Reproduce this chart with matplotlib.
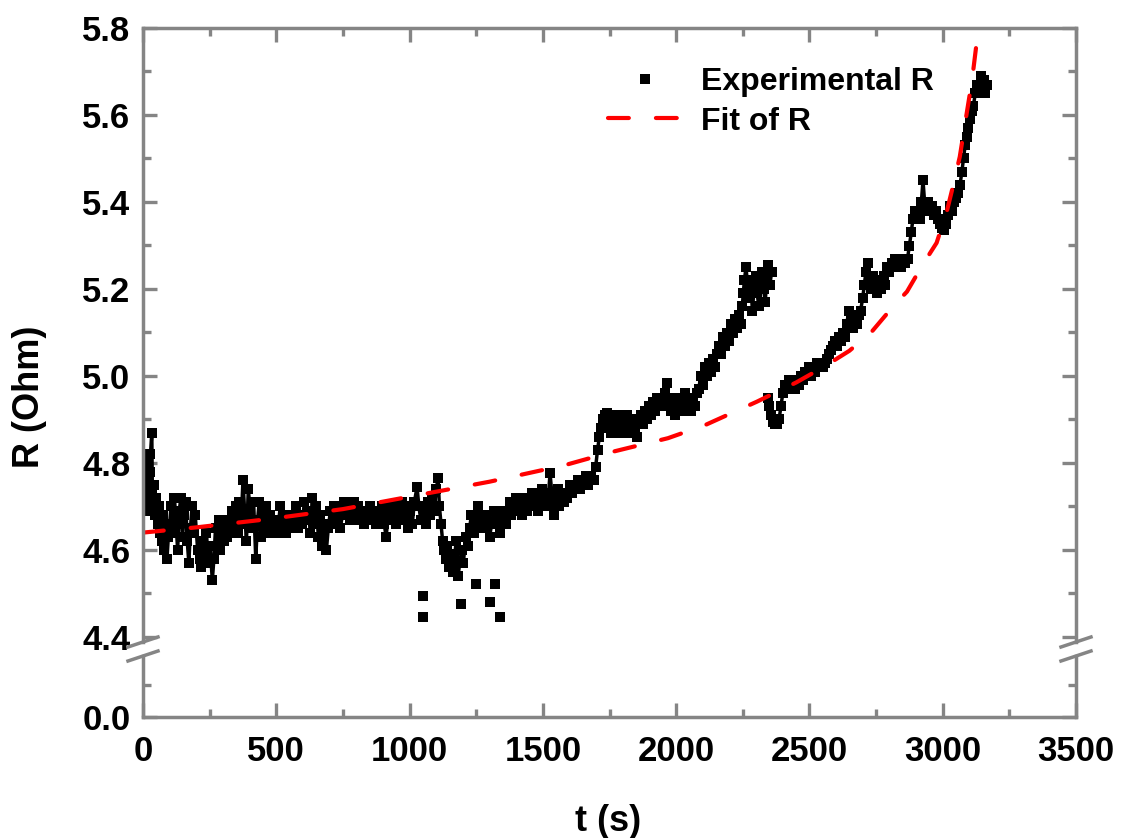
import matplotlib
matplotlib.use('Agg')
import matplotlib.pyplot as plt
from matplotlib.lines import Line2D
from matplotlib.ticker import MultipleLocator

plt.rcParams['font.family'] = ['Liberation Sans', 'DejaVu Sans']
plt.rcParams['font.weight'] = 'bold'

# experimental R (t in s, R in Ohm), segment by segment
early = [(5, 4.70), (8, 4.78), (10, 4.74), (12, 4.80), (15, 4.72), (18, 4.76), (20, 4.69),
         (22, 4.74), (25, 4.78), (28, 4.82), (33, 4.87), (35, 4.74), (38, 4.70), (42, 4.75),
         (45, 4.68), (50, 4.72), (55, 4.66), (60, 4.70), (65, 4.64), (70, 4.62), (75, 4.68),
         (80, 4.60), (85, 4.65), (90, 4.58), (95, 4.63), (100, 4.66),
         (105, 4.70), (112, 4.64), (118, 4.72), (124, 4.66), (130, 4.60), (136, 4.69),
         (142, 4.72), (148, 4.63), (155, 4.68), (160, 4.71), (166, 4.62), (172, 4.57),
         (178, 4.65), (184, 4.70), (190, 4.64), (196, 4.68), (205, 4.60), (212, 4.58),
         (218, 4.56), (225, 4.62), (232, 4.58), (238, 4.64), (245, 4.57), (252, 4.61),
         (260, 4.53), (266, 4.58), (272, 4.65), (278, 4.61), (284, 4.67), (290, 4.60),
         (296, 4.64), (302, 4.62), (308, 4.66), (314, 4.63), (320, 4.67), (326, 4.64),
         (332, 4.69), (340, 4.65), (348, 4.70), (355, 4.64), (362, 4.71), (368, 4.66),
         (375, 4.76), (382, 4.68), (388, 4.62), (395, 4.74), (402, 4.69), (408, 4.65),
         (415, 4.71), (423, 4.58), (430, 4.67), (436, 4.71), (442, 4.63), (448, 4.69),
         (455, 4.66), (462, 4.70), (470, 4.64), (478, 4.68), (485, 4.65), (492, 4.67), (500, 4.64)]

flat = [(508, 4.66), (515, 4.70), (522, 4.65), (530, 4.68), (538, 4.64), (545, 4.67),
        (553, 4.65), (560, 4.68), (568, 4.66), (575, 4.70), (583, 4.65), (590, 4.68),
        (598, 4.66), (605, 4.71), (612, 4.67), (620, 4.69), (628, 4.64), (635, 4.72),
        (642, 4.66), (650, 4.70), (658, 4.63), (665, 4.68), (672, 4.61), (680, 4.66),
        (688, 4.60), (695, 4.65), (703, 4.69), (710, 4.66), (718, 4.70), (725, 4.67),
        (732, 4.69), (740, 4.65), (748, 4.68), (755, 4.71), (762, 4.68), (770, 4.70),
        (778, 4.67), (785, 4.69), (793, 4.71), (800, 4.68), (808, 4.70), (815, 4.67),
        (822, 4.69), (830, 4.66), (838, 4.69), (845, 4.68), (852, 4.70), (860, 4.67),
        (868, 4.69), (875, 4.66), (882, 4.69), (890, 4.68), (898, 4.70), (905, 4.66),
        (912, 4.63), (920, 4.68), (928, 4.70), (935, 4.67), (942, 4.69), (950, 4.66),
        (958, 4.70), (965, 4.68), (972, 4.71), (980, 4.67), (988, 4.70), (995, 4.65),
        (1002, 4.69), (1010, 4.66), (1018, 4.71), (1028, 4.745), (1035, 4.70), (1042, 4.67)]

dip = [(1055, 4.70), (1062, 4.66), (1070, 4.71), (1078, 4.68), (1085, 4.72), (1092, 4.69),
       (1100, 4.74), (1107, 4.765), (1112, 4.70), (1118, 4.66), (1124, 4.62), (1130, 4.60),
       (1136, 4.58), (1142, 4.61), (1148, 4.56), (1155, 4.59), (1162, 4.55), (1168, 4.58),
       (1175, 4.62), (1182, 4.54), (1188, 4.57), (1195, 4.60), (1202, 4.57), (1210, 4.63),
       (1218, 4.61), (1225, 4.65), (1232, 4.68), (1240, 4.64), (1248, 4.67), (1255, 4.70),
       (1262, 4.66), (1270, 4.68), (1278, 4.65), (1285, 4.68), (1292, 4.66), (1300, 4.63),
       (1308, 4.66), (1315, 4.69), (1322, 4.66), (1330, 4.68), (1338, 4.64), (1345, 4.67),
       (1352, 4.69), (1360, 4.66), (1368, 4.68), (1375, 4.71), (1382, 4.68), (1390, 4.70),
       (1398, 4.72), (1405, 4.69), (1412, 4.71), (1420, 4.68), (1428, 4.70), (1435, 4.72),
       (1442, 4.69), (1450, 4.71), (1458, 4.73), (1465, 4.70), (1472, 4.72), (1480, 4.69),
       (1488, 4.71), (1495, 4.74), (1502, 4.71), (1510, 4.73), (1518, 4.70), (1527, 4.777),
       (1535, 4.72), (1540, 4.68), (1548, 4.72), (1555, 4.74), (1562, 4.70), (1570, 4.73),
       (1578, 4.71), (1585, 4.73), (1592, 4.72), (1600, 4.75), (1608, 4.73), (1615, 4.75),
       (1622, 4.74), (1630, 4.76), (1638, 4.74), (1645, 4.76), (1652, 4.75), (1660, 4.77),
       (1668, 4.75), (1675, 4.76), (1682, 4.77), (1690, 4.76)]

outliers = [(1050, 4.494), (1050, 4.446), (1193, 4.476), (1251, 4.522),
            (1301, 4.481), (1320, 4.522), (1340, 4.446)]

rise1 = [(1698, 4.79), (1705, 4.83), (1712, 4.86), (1718, 4.88), (1725, 4.90), (1732, 4.91),
         (1740, 4.915), (1748, 4.89), (1755, 4.87), (1762, 4.90), (1770, 4.88), (1778, 4.91),
         (1785, 4.89), (1792, 4.87), (1800, 4.90), (1808, 4.88), (1815, 4.91), (1822, 4.89),
         (1830, 4.87), (1838, 4.90), (1845, 4.88), (1852, 4.86), (1860, 4.89), (1868, 4.91),
         (1875, 4.89), (1882, 4.92), (1890, 4.90), (1898, 4.93), (1905, 4.91), (1912, 4.94),
         (1920, 4.92), (1928, 4.95), (1935, 4.93), (1942, 4.95), (1950, 4.93), (1958, 4.96),
         (1965, 4.984), (1972, 4.95), (1980, 4.92), (1988, 4.94), (1995, 4.91), (2002, 4.93),
         (2010, 4.95), (2018, 4.92), (2025, 4.94), (2032, 4.96), (2040, 4.93), (2048, 4.95),
         (2055, 4.92), (2062, 4.95), (2070, 4.93), (2078, 4.96),
         (2085, 4.97), (2092, 5.00), (2100, 4.98), (2108, 5.02), (2115, 5.00), (2122, 5.03),
         (2130, 5.01), (2138, 5.04), (2145, 5.02), (2152, 5.05), (2160, 5.07), (2168, 5.05),
         (2175, 5.09), (2182, 5.07), (2190, 5.10), (2198, 5.08), (2205, 5.12), (2212, 5.10),
         (2220, 5.13), (2228, 5.11), (2235, 5.14), (2242, 5.12), (2248, 5.16), (2252, 5.19),
         (2256, 5.22), (2262, 5.25), (2268, 5.21), (2274, 5.18), (2280, 5.22), (2286, 5.15),
         (2292, 5.20), (2298, 5.23), (2304, 5.19), (2310, 5.16), (2316, 5.21), (2322, 5.24),
         (2328, 5.20), (2334, 5.17), (2340, 5.22), (2346, 5.255), (2352, 5.21), (2358, 5.24)]

rise2 = [(2345, 4.95), (2350, 4.93), (2356, 4.91), (2362, 4.895), (2370, 4.89), (2378, 4.89),
         (2386, 4.90), (2393, 4.93), (2400, 4.96), (2408, 4.98), (2415, 4.97), (2422, 4.99),
         (2430, 4.98), (2438, 4.99), (2445, 4.97), (2452, 4.99), (2460, 4.98), (2468, 5.00),
         (2475, 4.99), (2482, 5.01), (2490, 5.00), (2498, 5.02), (2505, 5.00), (2512, 5.02),
         (2520, 5.01), (2528, 5.03), (2535, 5.02), (2542, 5.03), (2550, 5.02), (2558, 5.03),
         (2565, 5.04), (2572, 5.05), (2580, 5.06), (2588, 5.07), (2595, 5.08), (2602, 5.07),
         (2610, 5.09), (2618, 5.08), (2625, 5.10), (2632, 5.09), (2640, 5.12), (2648, 5.15),
         (2655, 5.13), (2662, 5.11), (2670, 5.13), (2678, 5.12), (2685, 5.14), (2692, 5.15),
         (2700, 5.18), (2706, 5.21), (2712, 5.24), (2718, 5.26), (2725, 5.22), (2732, 5.20),
         (2740, 5.23), (2748, 5.21), (2755, 5.19), (2762, 5.22), (2770, 5.20), (2778, 5.23),
         (2785, 5.21), (2792, 5.25), (2800, 5.24), (2808, 5.26), (2815, 5.25), (2822, 5.27),
         (2830, 5.25), (2838, 5.26), (2845, 5.25), (2852, 5.27), (2860, 5.26), (2868, 5.27),
         (2875, 5.30), (2882, 5.33), (2888, 5.36), (2895, 5.38), (2902, 5.36), (2908, 5.38),
         (2915, 5.36), (2920, 5.40), (2926, 5.45), (2932, 5.40), (2938, 5.38), (2945, 5.40),
         (2952, 5.38), (2960, 5.39), (2968, 5.37), (2975, 5.38), (2982, 5.36), (2990, 5.35),
         (2998, 5.34), (3005, 5.335), (3012, 5.35), (3020, 5.37), (3028, 5.39), (3035, 5.38),
         (3042, 5.40), (3050, 5.41), (3058, 5.42), (3065, 5.44), (3072, 5.47), (3078, 5.50),
         (3084, 5.53), (3090, 5.55), (3096, 5.57), (3102, 5.59), (3108, 5.61), (3115, 5.62),
         (3122, 5.65), (3128, 5.67), (3135, 5.66), (3142, 5.69), (3148, 5.66), (3155, 5.68),
         (3160, 5.65), (3165, 5.67)]

# fitted curve
t_fit = [0, 200, 470, 750, 1030, 1300, 1582, 1763, 1969, 2108, 2303, 2450, 2554, 2650,
         2734, 2814, 2866, 2927, 2977, 3014, 3040, 3064, 3090, 3110, 3127]
r_fit = [4.640, 4.652, 4.671, 4.694, 4.726, 4.757, 4.795, 4.826, 4.857, 4.887, 4.941, 4.985,
         5.021, 5.058, 5.102, 5.160, 5.194, 5.258, 5.306, 5.375, 5.44, 5.504, 5.604, 5.68, 5.765]

x_major = [0, 500, 1000, 1500, 2000, 2500, 3000, 3500]

exp_pts = early + flat + dip + outliers + rise1 + rise2
t_exp = [p[0] for p in exp_pts]
r_exp = [p[1] for p in exp_pts]

gray = '#858585'
W, H = 1126, 838
fig = plt.figure(figsize=(W / 100, H / 100), dpi=100)

def fx(px):
    return px / W

def fy(py):
    return 1 - py / H

left, right = 143, 1076
top, brk_hi, brk_lo, bottom = 28, 642, 656, 717

ax = fig.add_axes([fx(left), fy(brk_hi), (right - left) / W, (brk_hi - top) / H])
axb = fig.add_axes([fx(left), fy(bottom), (right - left) / W, (bottom - brk_lo) / H], sharex=ax)

# the recorded points are so dense they merge into a band; a thin trace fills the gaps
for seg in (early + flat + dip, rise1, rise2):
    ax.plot([p[0] for p in seg], [p[1] for p in seg], '-', color='black', lw=2.5)
ax.plot(t_exp, r_exp, 's', color='black', ms=7.5, mew=0, label='Experimental R')
ax.plot(t_fit, r_fit, color='#ff0000', lw=3, linestyle=(0, (5, 6.5)),
        dash_capstyle='round', label='Fit of R')

ax.set_xlim(0, 3500)
ax.set_ylim(5.8 - (brk_hi - top) / 435, 5.8)
axb.set_ylim(0, 0.19)

ax.set_yticks([4.4, 4.6, 4.8, 5.0, 5.2, 5.4, 5.6, 5.8])
ax.yaxis.set_minor_locator(MultipleLocator(0.1))
axb.set_yticks([0.0])
axb.set_yticks([0.1], minor=True)
axb.set_xticks(x_major)
axb.xaxis.set_minor_locator(MultipleLocator(250))
axb.yaxis.set_major_formatter(plt.FormatStrFormatter('%.1f'))
ax.yaxis.set_major_formatter(plt.FormatStrFormatter('%.1f'))

for a in (ax, axb):
    for s in a.spines.values():
        s.set_color(gray)
        s.set_linewidth(2.5)
    a.tick_params(which='both', direction='in', color=gray, width=2.4,
                  right=True, labelsize=25, labelcolor='black')
    a.tick_params(which='major', length=10)
    a.tick_params(which='minor', length=6)
    a.tick_params(axis='y', pad=9)
    a.tick_params(axis='x', pad=13)
    for lab in a.get_xticklabels() + a.get_yticklabels():
        lab.set_fontweight('bold')

ax.spines['bottom'].set_visible(False)
axb.spines['top'].set_visible(False)
ax.tick_params(axis='x', which='both', top=True, bottom=False, labelbottom=False)
axb.tick_params(axis='x', which='both', top=False, bottom=True)

# break marks on both vertical spines
for xs in (left, right):
    for yc in (brk_hi, brk_lo):
        fig.add_artist(Line2D([fx(xs - 15), fx(xs + 15)], [fy(yc + 5), fy(yc - 5)],
                              color=gray, lw=2.5, transform=fig.transFigure))

ax.legend(loc='upper left', bbox_to_anchor=((608 - left) / (right - left), 1 - (67 - top) / (brk_hi - top)),
          frameon=False, fontsize=23, numpoints=1, handlelength=2.3, handletextpad=0.6,
          labelspacing=0.3, borderpad=0, borderaxespad=0)

fig.text(fx(30), fy(397), 'R (Ohm)', rotation=90, ha='center', va='center',
         fontsize=26, fontweight='bold')
fig.text(fx(608), fy(821), 't (s)', ha='center', va='center', fontsize=26, fontweight='bold')

fig.savefig('out.png', dpi=100)
